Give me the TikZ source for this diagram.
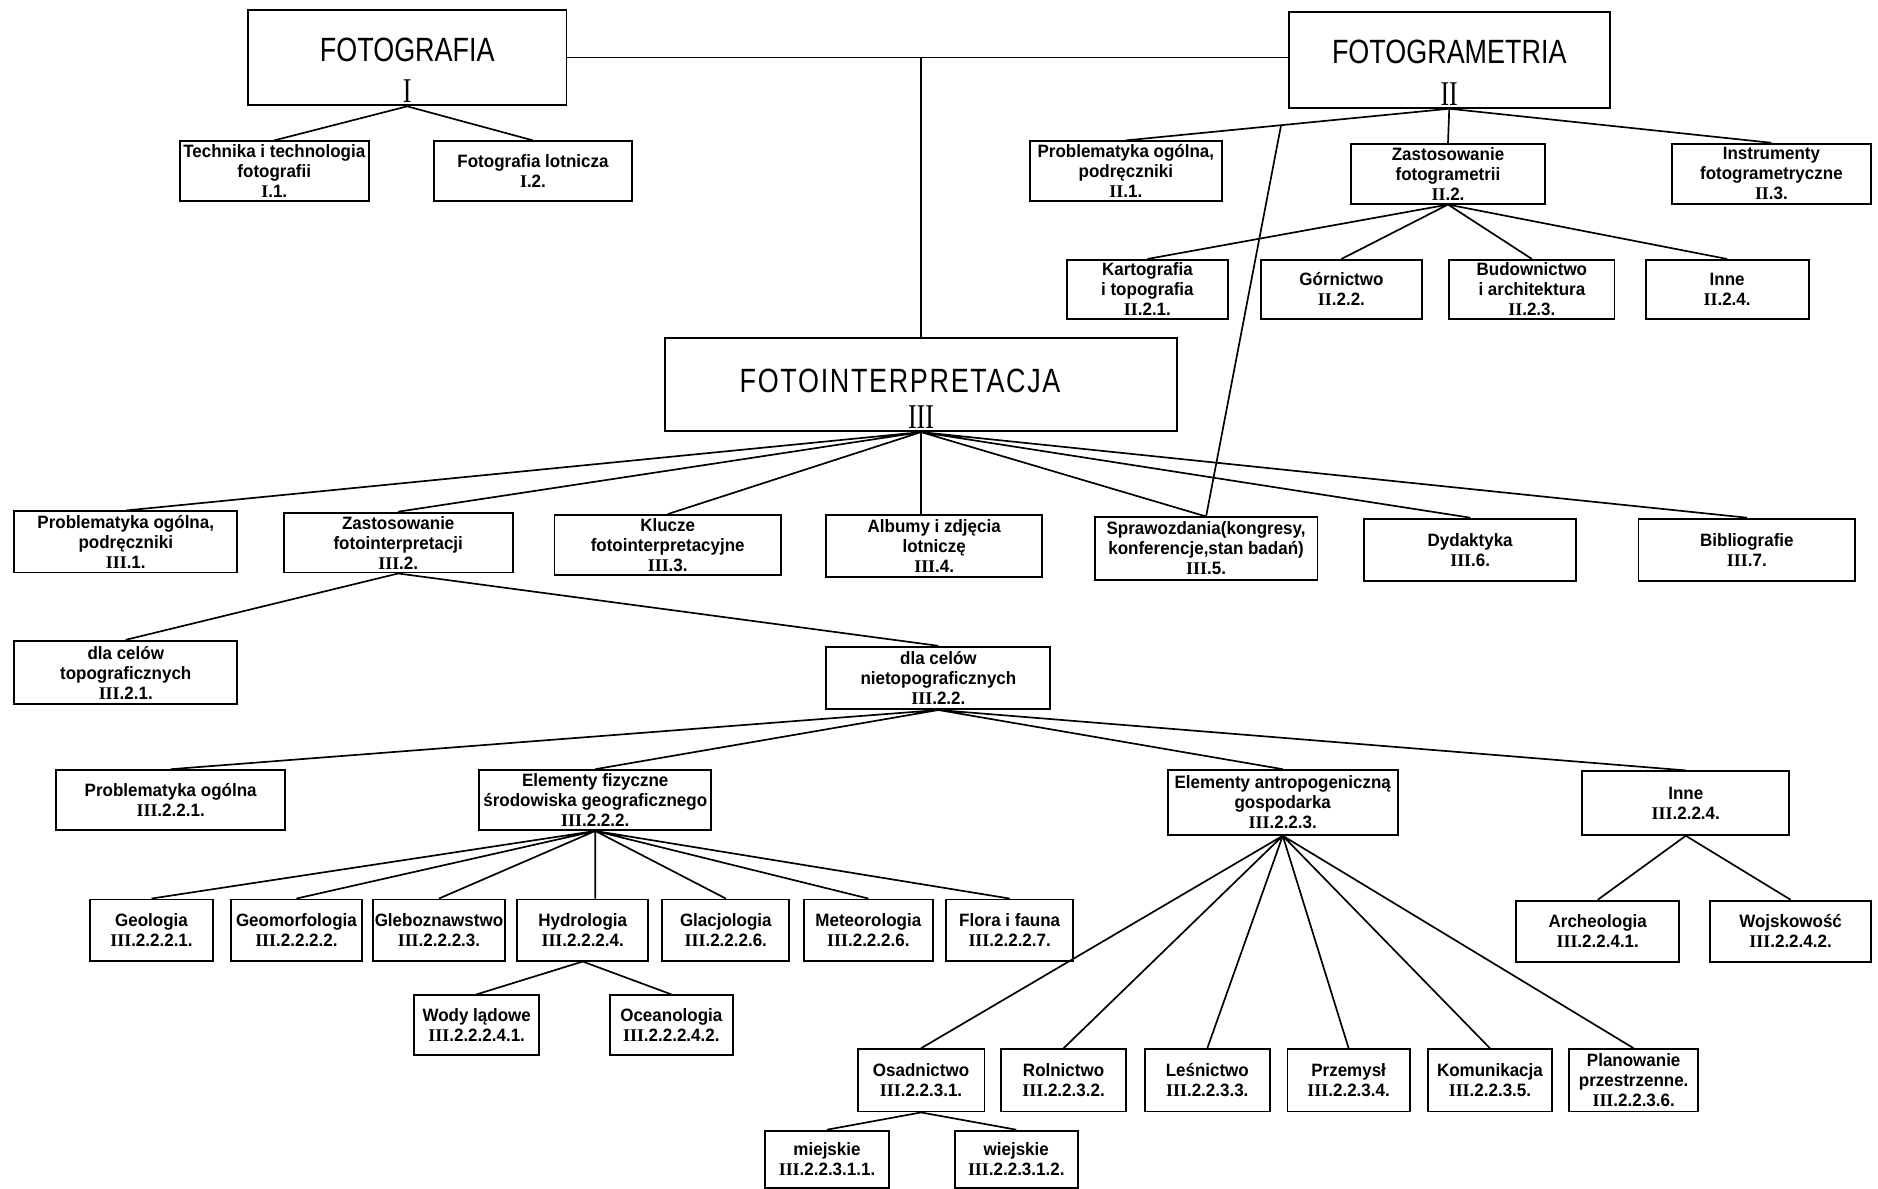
\documentclass[tikz,border=0pt]{standalone}
\usepackage{fontspec}
\setmainfont{Liberation Sans}[FakeStretch=0.95]
\newfontfamily\titlefont{Liberation Sans}[FakeStretch=0.8]
\newfontfamily\numfont{Liberation Serif}[FakeStretch=0.75]
\newfontfamily\smallnum{Liberation Serif}
\usetikzlibrary{calc}

\newcommand{\rn}[1]{{\smallnum\bfseries #1}}
\newcommand{\bigrn}[1]{{\numfont\fontsize{16.5}{16.5}\selectfont #1}}

\tikzset{
  box/.style={draw, line width=0.9pt, align=center, inner sep=1pt,
    font=\bfseries\fontsize{8.5}{9.5}\selectfont},
  bigbox/.style={draw, line width=0.9pt, align=center, inner sep=0.04cm,
    font=\titlefont\fontsize{16}{19.9}\selectfont},
  sz/.style 2 args={minimum width=#1*0.02cm, minimum height=#2*0.02cm},
  link/.style={line width=0.8pt},
}

\begin{document}
\begin{tikzpicture}[x=0.02cm, y=-0.02cm]
  \useasboundingbox (0,0) rectangle (1568,992);
  \fill[white] (0,0) rectangle (1568,992);

  % trzy glowne dzialy
  \node[bigbox, minimum width=5.32cm] (I) at (340,48) {\rule{0pt}{0.82cm}FOTOGRAFIA\\\bigrn{I}};
  \node[bigbox, minimum width=5.36cm] (II) at (1210,50) {\rule{0pt}{0.82cm}FOTOGRAMETRIA\\\bigrn{II}};
  \node[bigbox, minimum width=8.54cm] (III) at (769,321) {\rule{0pt}{0.88cm}{\addfontfeature{LetterSpace=5}FOTOINTERPRETACJA}\hspace*{0.7cm}\\[-0.1cm]\bigrn{III}};

  % fotografia
  \node[box, sz={158}{50}] (I1) at (229,143) {Technika i technologia\\fotografii\\\rn{I}.1.};
  \node[box, sz={166}{50}] (I2) at (445,143) {Fotografia lotnicza\\\rn{I}.2.};

  % fotogrametria
  \node[box, sz={160}{50}] (II1) at (940,143) {Problematyka ogólna,\\podręczniki\\\rn{II}.1.};
  \node[box, sz={162}{50}] (II2) at (1209,145) {Zastosowanie\\fotogrametrii\\\rn{II}.2.};
  \node[box, sz={166}{50}] (II3) at (1479,145) {Instrumenty\\fotogrametryczne\\\rn{II}.3.};
  \node[box, sz={134}{49}] (II21) at (958,241.5) {Kartografia\\i topografia\\\rn{II}.2.1.};
  \node[box, sz={134}{49}] (II22) at (1120,241.5) {Górnictwo\\\rn{II}.2.2.};
  \node[box, sz={138}{49}] (II23) at (1279,241.5) {Budownictwo\\i architektura\\\rn{II}.2.3.};
  \node[box, sz={136}{49}] (II24) at (1442,241.5) {Inne\\\rn{II}.2.4.};

  % fotointerpretacja
  \node[box, sz={186}{51}] (III1) at (105,452.5) {Problematyka ogólna,\\podręczniki\\\rn{III}.1.};
  \node[box, sz={191}{50}] (III2) at (332.5,453) {Zastosowanie\\fotointerpretacji\\\rn{III}.2.};
  \node[box, sz={189}{50}] (III3) at (557.5,455) {Klucze\\fotointerpretacyjne\\\rn{III}.3.};
  \node[box, sz={180}{52}] (III4) at (780,456) {Albumy i zdjęcia\\lotniczę\\\rn{III}.4.};
  \node[box, sz={186}{52}] (III5) at (1007,458) {Sprawozdania(kongresy,\\konferencje,stan badań)\\\rn{III}.5.};
  \node[box, sz={177}{52}] (III6) at (1227.5,459) {Dydaktyka\\\rn{III}.6.};
  \node[box, sz={181}{52}] (III7) at (1458.5,459) {Bibliografie\\\rn{III}.7.};

  \node[box, sz={186}{53}] (III21) at (105,561.5) {dla celów\\topograficznych\\\rn{III}.2.1.};
  \node[box, sz={187}{52}] (III22) at (783.5,566) {dla celów\\nietopograficznych\\\rn{III}.2.2.};

  \node[box, sz={191}{50}] (III221) at (142.5,668) {Problematyka ogólna\\\rn{III}.2.2.1.};
  \node[box, sz={194}{50}] (III222) at (497,668) {Elementy fizyczne\\środowiska geograficznego\\\rn{III}.2.2.2.};
  \node[box, sz={192}{54}] (III223) at (1071,670) {Elementy antropogeniczną\\gospodarka\\\rn{III}.2.2.3.};
  \node[box, sz={173}{53}] (III224) at (1407.5,670.5) {Inne\\\rn{III}.2.2.4.};

  % elementy fizyczne
  \node[box, sz={103}{51}] (III2221) at (126.5,776.5) {Geologia\\\rn{III}.2.2.2.1.};
  \node[box, sz={109}{51}] (III2222) at (247.5,776.5) {Geomorfologia\\\rn{III}.2.2.2.2.};
  \node[box, sz={107}{51}] (III2223) at (366.5,776.5) {Gleboznawstwo\\\rn{III}.2.2.2.3.};
  \node[box, sz={109}{51}] (III2224) at (486.5,776.5) {Hydrologia\\\rn{III}.2.2.2.4.};
  \node[box, sz={106}{51}] (III2225) at (606,776.5) {Glacjologia\\\rn{III}.2.2.2.6.};
  \node[box, sz={108}{51}] (III2226) at (725,776.5) {Meteorologia\\\rn{III}.2.2.2.6.};
  \node[box, sz={106}{51}] (III2227) at (843,776.5) {Flora i fauna\\\rn{III}.2.2.2.7.};
  \node[box, sz={104}{50}] (III22241) at (398,856) {Wody lądowe\\\rn{III}.2.2.2.4.1.};
  \node[box, sz={103}{50}] (III22242) at (560.5,856) {Oceanologia\\\rn{III}.2.2.2.4.2.};

  % inne
  \node[box, sz={136}{51}] (III2241) at (1334,777.5) {Archeologia\\\rn{III}.2.2.4.1.};
  \node[box, sz={134}{51}] (III2242) at (1495,777.5) {Wojskowość\\\rn{III}.2.2.4.2.};

  % elementy antropogeniczne
  \node[box, sz={106}{52}] (III2231) at (769,902) {Osadnictwo\\\rn{III}.2.2.3.1.};
  \node[box, sz={104}{52}] (III2232) at (888,902) {Rolnictwo\\\rn{III}.2.2.3.2.};
  \node[box, sz={104}{52}] (III2233) at (1008,902) {Leśnictwo\\\rn{III}.2.2.3.3.};
  \node[box, sz={102}{52}] (III2234) at (1126,902) {Przemysł\\\rn{III}.2.2.3.4.};
  \node[box, sz={104}{52}] (III2235) at (1244,902) {Komunikacja\\\rn{III}.2.2.3.5.};
  \node[box, sz={108}{52}] (III2236) at (1364,902) {Planowanie\\przestrzenne.\\\rn{III}.2.2.3.6.};
  \node[box, sz={103}{48}] (III22311) at (690.5,968) {miejskie\\\rn{III}.2.2.3.1.1.};
  \node[box, sz={103}{48}] (III22312) at (848.5,968) {wiejskie\\\rn{III}.2.2.3.1.2.};

  % polaczenia
  \draw[link] (I.east) -- (I.east -| II.west);
  \coordinate (hub) at (III.north |- I.east);
  \draw[link] (hub) -- (III.north);
  \draw[link] (I.south) -- (I1.north) (I.south) -- (I2.north);
  \draw[link] (II.south) -- (II1.north) (II.south) -- (II2.north) (II.south) -- (II3.north);
  \draw[link] (II2.south) -- (II21.north) (II2.south) -- (II22.north)
    (II2.south) -- (II23.north) (II2.south) -- (II24.north);

  % sprawozdania laczone z fotogrametria
  \coordinate (cross) at ($(II.south)!0.52!(II1.north)$);
  \draw[link] (III5.north) -- (cross);

  \draw[link] (III.south) -- (III1.north) (III.south) -- (III2.north)
    (III.south) -- (III3.north) (III.south) -- (III.south |- III4.north)
    (III.south) -- (III5.north) (III.south) -- (III6.north) (III.south) -- (III7.north);
  \draw[link] (III2.south) -- (III21.north) (III2.south) -- (III22.north);
  \draw[link] (III22.south) -- (III221.north) (III22.south) -- (III222.north)
    (III22.south) -- (III223.north) (III22.south) -- (III224.north);
  \draw[link] (III222.south) -- (III2221.north) (III222.south) -- (III2222.north)
    (III222.south) -- (III2223.north) (III222.south) -- (III222.south |- III2224.north)
    (III222.south) -- (III2225.north) (III222.south) -- (III2226.north)
    (III222.south) -- (III2227.north);
  \draw[link] (III2224.south) -- (III22241.north) (III2224.south) -- (III22242.north);
  \draw[link] (III224.south) -- (III2241.north) (III224.south) -- (III2242.north);
  \draw[link] (III223.south) -- (III2231.north) (III223.south) -- (III2232.north)
    (III223.south) -- (III2233.north) (III223.south) -- (III2234.north)
    (III223.south) -- (III2235.north) (III223.south) -- (III2236.north);
  \draw[link] (III2231.south) -- (III22311.north) (III2231.south) -- (III22312.north);
\end{tikzpicture}
\end{document}
